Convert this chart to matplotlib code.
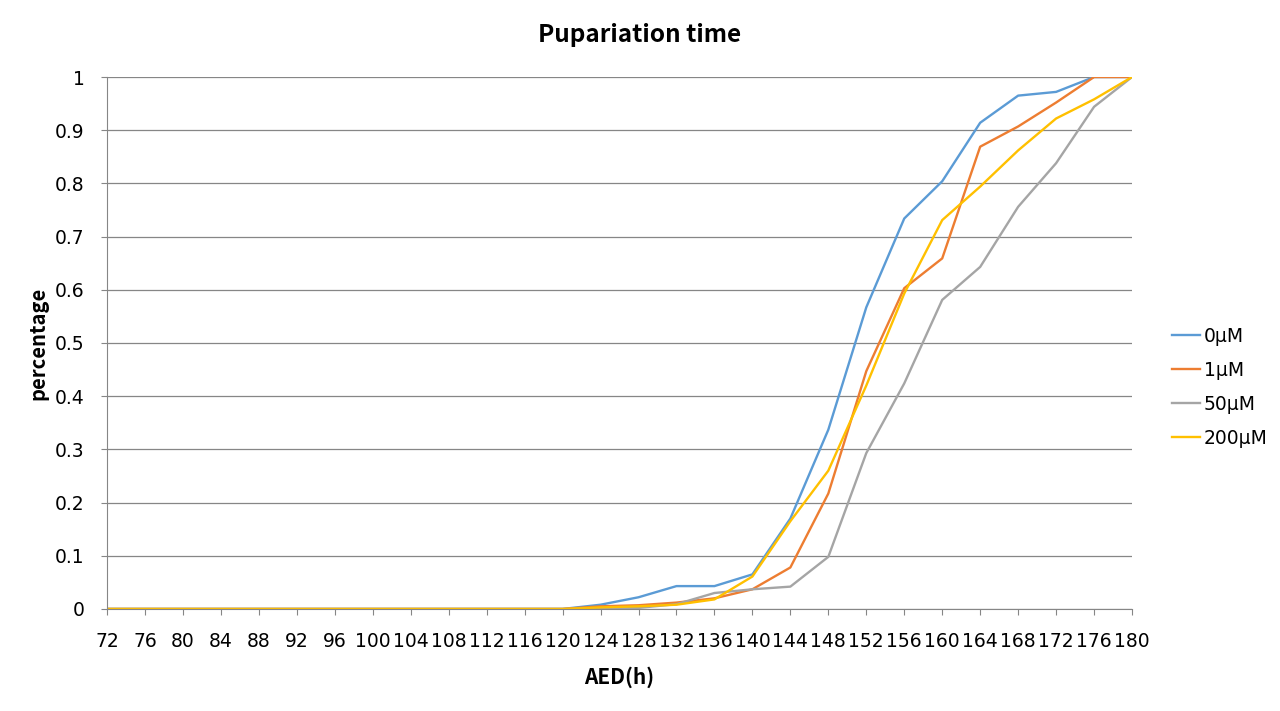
import matplotlib
matplotlib.use("Agg")
import matplotlib.pyplot as plt

plt.rcParams["font.family"] = ["DejaVu Sans"]

hours = list(range(72, 184, 4))
zeros = [0] * 12  # 72 .. 116

s_0uM = zeros + [0, 0.008, 0.022, 0.043, 0.043, 0.065, 0.17, 0.337, 0.567,
                 0.734, 0.804, 0.914, 0.965, 0.972, 1.0, 1.0]
s_1uM = zeros + [0, 0.005, 0.007, 0.012, 0.02, 0.037, 0.078, 0.217, 0.447,
                 0.603, 0.659, 0.869, 0.907, 0.952, 1.0, 1.0]
s_50uM = zeros + [0, 0.0, 0.002, 0.009, 0.03, 0.037, 0.042, 0.098, 0.293,
                  0.424, 0.581, 0.643, 0.756, 0.838, 0.944, 1.0]
s_200uM = zeros + [0, 0.003, 0.005, 0.008, 0.018, 0.061, 0.165, 0.26, 0.42,
                   0.593, 0.731, 0.794, 0.862, 0.922, 0.958, 1.0]

series = {"0μM": s_0uM, "1μM": s_1uM, "50μM": s_50uM, "200μM": s_200uM}
colors = ["#5B9BD5", "#ED7D31", "#A5A5A5", "#FFC000"]
grey = "#868686"
bold_font = ["Noto Sans CJK KR", "DejaVu Sans"]

fig = plt.figure(figsize=(12.8, 7.11), dpi=100)
ax = fig.add_axes([0.0836, 0.1435, 0.8008, 0.7482])

x = list(range(len(hours)))
for (name, vals), c in zip(series.items(), colors):
    ax.plot(x, vals, color=c, lw=1.7, label=name)

ax.set_xlim(0, len(hours) - 1)
ax.set_ylim(0, 1)
ax.set_xticks(x)
ax.set_xticklabels([str(h) for h in hours], fontsize=13.5)
yt = [i / 10 for i in range(11)]
ax.set_yticks(yt)
ax.set_yticklabels(["0"] + ["%.1f" % v for v in yt[1:-1]] + ["1"], fontsize=13.5)
ax.tick_params(axis="y", length=4, color=grey, pad=12)
ax.tick_params(axis="x", length=4.5, color=grey, pad=12)

ax.grid(axis="y", color=grey, lw=0.9)
ax.set_axisbelow(True)
for s in ["right", "top"]:
    ax.spines[s].set_visible(False)
ax.spines["bottom"].set_color(grey)
ax.spines["left"].set_color(grey)

fig.text(0.5, 1 - 35 / 711, "Pupariation time", fontsize=17.5, fontweight="bold",
         family=bold_font, ha="center", va="center")
fig.text(619 / 1280, 1 - 677 / 711, "AED(h)", fontsize=15, fontweight="bold",
         family=bold_font, ha="center", va="center")
fig.text(38 / 1280, 1 - 343 / 711, "percentage", fontsize=14.5, fontweight="bold",
         family=bold_font, ha="center", va="center", rotation=90)

ax.legend(loc="center left", bbox_to_anchor=(1172 / 1280, 1 - 387 / 711),
          bbox_transform=fig.transFigure, frameon=False, borderpad=0,
          borderaxespad=0, fontsize=13.5, handlelength=1.5, handletextpad=0.2,
          labelspacing=0.8)

fig.savefig("out.png", dpi=100)
